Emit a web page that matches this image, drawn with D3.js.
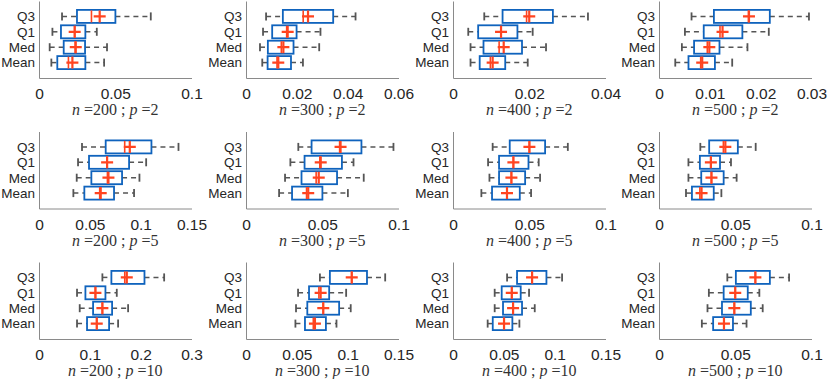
<!DOCTYPE html>
<html>
<head>
<meta charset="utf-8">
<script src="https://cdn.jsdelivr.net/npm/d3@7"></script>
<style>
  body { margin: 0; background: #fff; }
  text { font-family: "Liberation Sans", Arial, sans-serif; }
</style>
</head>
<body>
<svg id="chart" width="828" height="379"></svg>
<script>
// box labels, top to bottom
var categories = ["Q3", "Q1", "Med", "Mean"];
var nValues = [200, 300, 400, 500];
var pValues = [2, 5, 10];

// x limits and ticks of each panel, row by row (p = 2, 5, 10), then n = 200..500
var xMax = [0.1, 0.06, 0.04, 0.03,
            0.15, 0.1, 0.1, 0.1,
            0.3, 0.15, 0.15, 0.1];
var xTicks = [[0, 0.05, 0.1], [0, 0.02, 0.04, 0.06], [0, 0.02, 0.04], [0, 0.01, 0.02, 0.03],
              [0, 0.05, 0.1, 0.15], [0, 0.05, 0.1], [0, 0.05, 0.1], [0, 0.05, 0.1],
              [0, 0.1, 0.2, 0.3], [0, 0.05, 0.1, 0.15], [0, 0.05, 0.1, 0.15], [0, 0.05, 0.1]];

// box statistics per panel, in the order Q3, Q1, Med, Mean
var whiskerLo = [
  [.0151, .0088, .0070, .0081], [.0079, .0067, .0055, .0064], [.0082, .0040, .0046, .0046], [.0064, .0051, .0045, .0032],
  [.0423, .0384, .0371, .0338], [.0343, .0291, .0256, .0217], [.0260, .0230, .0239, .0186], [.0271, .0193, .0193, .0177],
  [.1247, .0748, .0801, .0748], [.0727, .0512, .0492, .0486], [.0532, .0410, .0410, .0341], [.0448, .0327, .0318, .0281]];
var boxLo = [
  [.0249, .0144, .0162, .0120], [.0145, .0103, .0086, .0085], [.0130, .0066, .0080, .0070], [.0108, .0088, .0069, .0058],
  [.0656, .0492, .0515, .0446], [.0430, .0384, .0364, .0302], [.0372, .0302, .0302, .0256], [.0329, .0268, .0277, .0216],
  [.1424, .0913, .1064, .0945], [.0825, .0620, .0603, .0580], [.0630, .0479, .0492, .0391], [.0504, .0424, .0413, .0355]];
var medians = [
  [.0344, .0234, .0237, .0193], [.0225, .0160, .0139, .0122], [.0193, .0126, .0121, .0098], [.0176, .0120, .0095, .0082],
  [.0843, .0670, .0673, .0597], [.0614, .0484, .0460, .0397], [.0501, .0396, .0383, .0354], [.0422, .0340, .0344, .0268],
  [.1687, .1110, .1247, .1136], [.1040, .0717, .0760, .0662], [.0778, .0578, .0591, .0502], [.0632, .0500, .0494, .0426]];
var means = [
  [.0398, .0234, .0241, .0219], [.0244, .0164, .0147, .0127], [.0200, .0126, .0133, .0104], [.0177, .0125, .0099, .0085],
  [.0893, .0670, .0683, .0607], [.0620, .0490, .0477, .0408], [.0501, .0396, .0383, .0354], [.0435, .0340, .0344, .0279],
  [.1727, .1110, .1247, .1136], [.1040, .0734, .0760, .0678], [.0778, .0578, .0591, .0502], [.0632, .0500, .0494, .0426]];
var boxHi = [
  [.0501, .0304, .0302, .0304], [.0343, .0199, .0187, .0177], [.0262, .0169, .0181, .0137], [.0218, .0164, .0119, .0110],
  [.1106, .0886, .0817, .0738], [.0757, .0629, .0597, .0501], [.0604, .0495, .0473, .0438], [.0517, .0400, .0424, .0359],
  [.2075, .1307, .1438, .1379], [.1190, .0818, .0916, .0786], [.0919, .0666, .0679, .0584], [.0727, .0582, .0602, .0485]];
var whiskerHi = [
  [.0733, .0379, .0446, .0427], [.0431, .0293, .0288, .0224], [.0354, .0209, .0244, .0196], [.0295, .0216, .0174, .0144],
  [.1372, .1054, .0988, .0935], [.0967, .0705, .0772, .0668], [.0753, .0562, .0571, .0512], [.0634, .0472, .0509, .0409],
  [.2462, .1530, .1753, .1556], [.1369, .0985, .1030, .0890], [.1073, .0748, .0804, .0653], [.0853, .0658, .0680, .0574]];

var svg = d3.select("#chart"),
    colLeft = [39, 246, 453, 659],
    rowTop = [1, 131.5, 262],
    width = 152.5,
    height = 77,
    boxColor = "#0f63bd",
    redColor = "#ff4420",
    greyColor = "#555";

pValues.forEach(function(p, r) {
  nValues.forEach(function(n, c) {
    var k = r * 4 + c;
    var g = svg.append("g")
        .attr("transform", "translate(" + colLeft[c] + "," + rowTop[r] + ")");

    var x = d3.scaleLinear().domain([0, xMax[k]]).range([0, width]);
    var y = d3.scaleLinear().domain([0, 5]).range([height, 0]);
    var pos = function(i) { return y(4 - i); };   // Q3 at 4 ... Mean at 1

    var xAxis = g.append("g")
        .attr("transform", "translate(0," + height + ")")
        .call(d3.axisBottom(x).tickValues(xTicks[k]).tickSize(0).tickPadding(10)
            .tickFormat(d3.format("~g")));
    var yAxis = g.append("g")
        .call(d3.axisLeft(y).tickValues([4, 3, 2, 1]).tickSize(0).tickPadding(4)
            .tickFormat(function(d) { return categories[4 - d]; }));

    xAxis.select(".domain").attr("stroke", "#8a8a8a").attr("stroke-width", 1);
    yAxis.select(".domain").attr("stroke", "#8a8a8a").attr("stroke-width", 1);
    xAxis.selectAll("text").attr("font-size", 15.5).attr("fill", "#262626");
    yAxis.selectAll("text").attr("font-size", 13.5).attr("fill", "#262626");

    var boxes = g.selectAll(".bx").data(categories).enter().append("g");

    // whiskers
    boxes.append("line")
        .attr("x1", function(d, i) { return x(whiskerLo[k][i]); })
        .attr("x2", function(d, i) { return x(boxLo[k][i]); })
        .attr("y1", function(d, i) { return pos(i); })
        .attr("y2", function(d, i) { return pos(i); })
        .attr("stroke", greyColor).attr("stroke-width", 1.5).attr("stroke-dasharray", "5,4");
    boxes.append("line")
        .attr("x1", function(d, i) { return x(boxHi[k][i]); })
        .attr("x2", function(d, i) { return x(whiskerHi[k][i]); })
        .attr("y1", function(d, i) { return pos(i); })
        .attr("y2", function(d, i) { return pos(i); })
        .attr("stroke", greyColor).attr("stroke-width", 1.5).attr("stroke-dasharray", "5,4");
    [whiskerLo, whiskerHi].forEach(function(arr) {
      boxes.append("line")
          .attr("x1", function(d, i) { return x(arr[k][i]); })
          .attr("x2", function(d, i) { return x(arr[k][i]); })
          .attr("y1", function(d, i) { return pos(i) - 4; })
          .attr("y2", function(d, i) { return pos(i) + 4; })
          .attr("stroke", greyColor).attr("stroke-width", 1.8);
    });

    // boxes
    boxes.append("rect")
        .attr("x", function(d, i) { return x(boxLo[k][i]); })
        .attr("width", function(d, i) { return x(boxHi[k][i]) - x(boxLo[k][i]); })
        .attr("y", function(d, i) { return pos(i) - 6.5; })
        .attr("height", 13)
        .attr("fill", "none").attr("stroke", boxColor).attr("stroke-width", 1.8);

    // median line
    boxes.append("line")
        .attr("x1", function(d, i) { return x(medians[k][i]); })
        .attr("x2", function(d, i) { return x(medians[k][i]); })
        .attr("y1", function(d, i) { return pos(i) - 6; })
        .attr("y2", function(d, i) { return pos(i) + 6; })
        .attr("stroke", redColor).attr("stroke-width", 1.6);

    // mean marker
    boxes.append("path")
        .attr("d", function(d, i) {
          var mx = x(means[k][i]), my = pos(i);
          return "M" + (mx - 6) + "," + my + "H" + (mx + 6) + "M" + mx + "," + (my - 6) + "V" + (my + 6);
        })
        .attr("stroke", redColor).attr("stroke-width", 2.2).attr("fill", "none");

    // label under the panel
    var lbl = g.append("text")
        .attr("x", width / 2)
        .attr("y", height + 37)
        .attr("text-anchor", "middle")
        .attr("fill", "#333")
        .style("font-family", "'Liberation Serif', 'Times New Roman', serif")
        .attr("font-size", 16);
    lbl.append("tspan").attr("font-style", "italic").text("n");
    lbl.append("tspan").text(" =" + n + " ; ");
    lbl.append("tspan").attr("font-style", "italic").text("p");
    lbl.append("tspan").text(" =" + p);
  });
});
</script>
</body>
</html>
